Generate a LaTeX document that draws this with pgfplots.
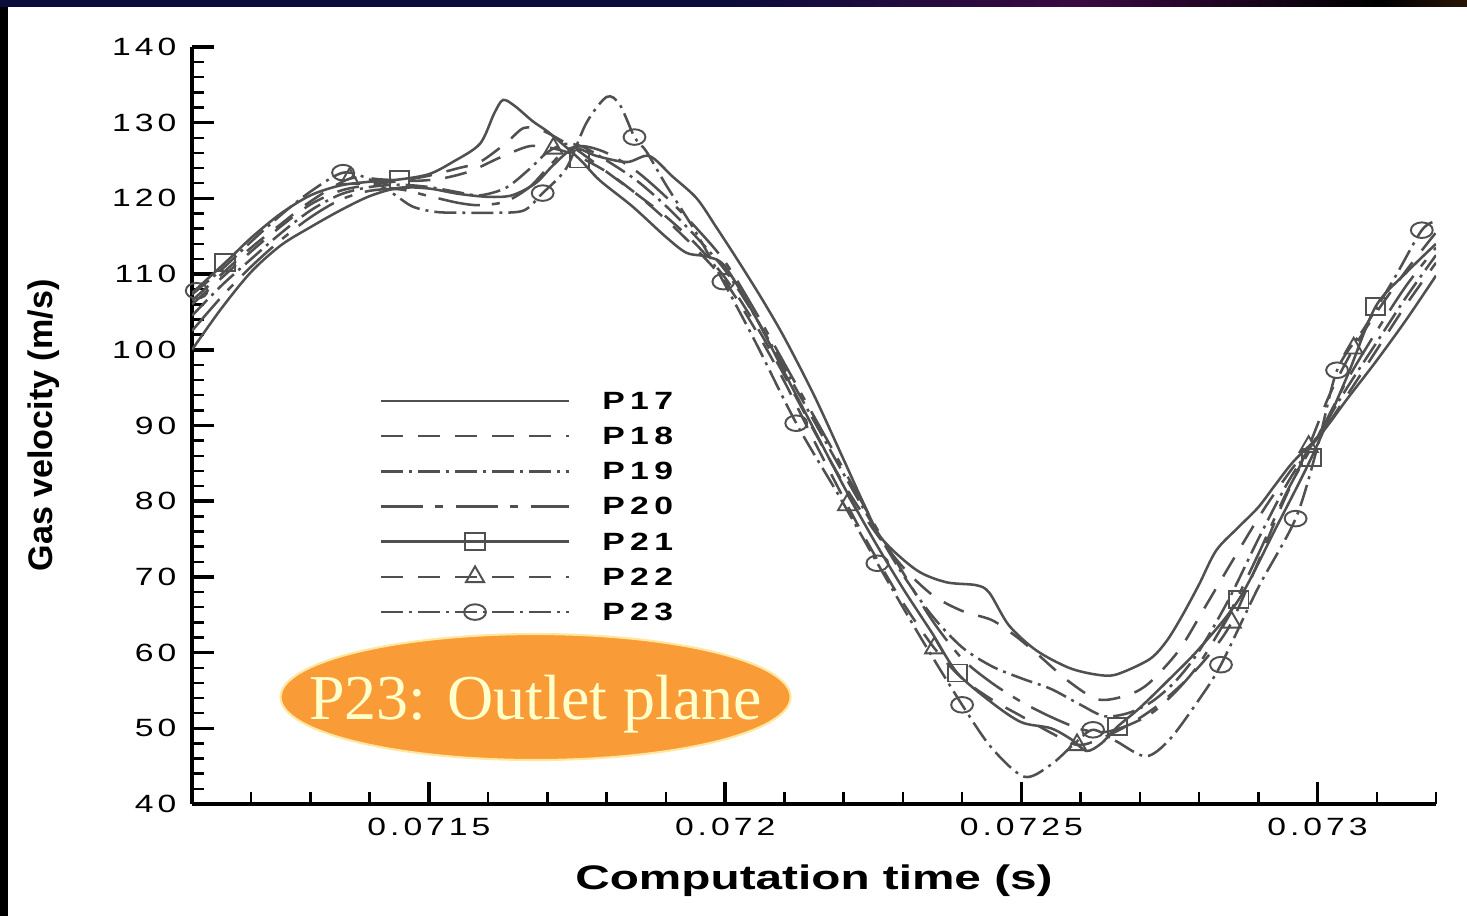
\documentclass[border=0pt]{standalone}
\usepackage{fontspec}
\setmainfont{Liberation Sans}
\newfontfamily\tickfont[FakeStretch=1.35, LetterSpace=16]{Liberation Sans}
\newfontfamily\legfont[FakeStretch=1.35, LetterSpace=22]{Liberation Sans}
\newfontfamily\labfont[FakeStretch=1.4]{Liberation Sans}
\newfontfamily\seriffont{Liberation Serif}
\usepackage{pgfplots}
\pgfplotsset{compat=1.18}
\usetikzlibrary{shapes.geometric}
\definecolor{cgray}{HTML}{505050}
\definecolor{ellfill}{HTML}{F99B36}
\definecolor{elltext}{HTML}{FFFFCC}
\definecolor{elldraw}{HTML}{FFE7A0}
\definecolor{navyc}{HTML}{0C0C3C}
\definecolor{purpc}{HTML}{3A0A40}
\definecolor{brownc}{HTML}{6B3A10}
\definecolor{magc}{HTML}{A0104A}
\definecolor{orangec}{HTML}{E07818}
\pgfdeclarehorizontalshading{topband}{100bp}{color(0bp)=(black); color(12bp)=(black); color(25bp)=(navyc); color(50bp)=(navyc); color(62bp)=(purpc); color(72bp)=(black); color(80bp)=(brownc); color(88bp)=(magc); color(100bp)=(orangec)}
\pgfplotsset{
  p17/.style={cgray, line width=0.72pt, solid},
  p18/.style={cgray, line width=0.72pt, dash pattern=on 2.2mm off 1.5mm},
  p19/.style={cgray, line width=0.72pt, dash pattern=on 2.2mm off 0.6mm on 0.3mm off 0.6mm},
  p20/.style={cgray, line width=0.72pt, dash pattern=on 4.2mm off 1.2mm on 0.8mm off 1.3mm},
  p21/.style={p17, mark=square, mark size=0.85mm, mark options={solid, line width=0.55pt, xscale=1.15}},
  p22/.style={p18, mark=triangle, mark size=1.05mm, mark options={solid, line width=0.55pt}},
  p23/.style={p19, mark=o, mark size=0.78mm, mark options={solid, line width=0.55pt, xscale=1.4}},
}
\begin{document}
\begin{tikzpicture}
\fill[black] (-1.92cm,-1.12cm) rectangle (12.75cm,8.04cm);
\fill[white] (-1.84cm,-1.12cm) rectangle (12.75cm,7.97cm);
\shade[shading=topband] (-1.92cm,7.97cm) rectangle (12.75cm,8.04cm);
\begin{axis}[
  at={(0,0)}, anchor=south west,
  scale only axis, width=12.44cm, height=7.57cm,
  xmin=711, xmax=732, ymin=40, ymax=140,
  axis lines*=left,
  axis line style={black, line width=1pt},
  tick align=inside,
  major tick length=0.22cm, minor tick length=0.12cm,
  major tick style={black, line width=1pt},
  minor tick style={black, line width=0.7pt},
  xtick={715,720,725,730},
  xticklabels={0.0715,0.072,0.0725,0.073},
  minor xtick={711,712,713,714,716,717,718,719,721,722,723,724,726,727,728,729,731,732},
  ytick={40,50,60,70,80,90,100,110,120,130,140},
  yticklabels={40,50,60,70,80,90,100,110,120,130,140},
  minor y tick num=4,
  tick label style={font=\tickfont\fontsize{7.1}{8}\selectfont, black},
  xticklabel style={anchor=north, inner sep=0pt, yshift=-1.3mm},
  yticklabel style={anchor=east, inner sep=0pt, xshift=-1.5mm},
  xlabel={Computation time (s)},
  ylabel={Gas velocity (m/s)},
  xlabel style={at={(axis description cs:0.5,-0.1123)}, anchor=base, inner sep=0pt, font=\labfont\bfseries\fontsize{9.7}{11}\selectfont},
  ylabel style={at={(axis description cs:-0.1125,0.5)}, anchor=base, inner sep=0pt, font=\bfseries\fontsize{9.7}{11}\selectfont},
  legend image code/.code={\draw[#1, mark indices={2}] plot coordinates {(0cm,0cm) (0.94cm,0cm) (1.88cm,0cm)};},
  legend style={at={(axis cs:714.17,79.3)}, anchor=west, draw=none, fill=none, inner sep=0pt, outer sep=0pt,
    font=\legfont\bfseries\fontsize{7.1}{8}\selectfont, row sep=0.02mm,
    nodes={inner sep=0pt, text height=2.6mm, text depth=0.9mm},
    /tikz/every odd column/.append style={column sep=3.2mm}},
  legend cell align=left,
]
% P17
\addplot[p17, smooth, tension=0.5, forget plot] coordinates {(711,100) (711.5,105.5) (712,110.3) (712.5,113.8) (713,116.2) (713.5,118.4) (714,120.3) (714.5,121.4) (715,121.3) (715.5,120.6) (716,120.2) (716.4,120.4) (716.8,122) (717.1,124.4) (717.45,126.6) (717.83,125.6) (718.34,124.8) (718.72,125.6) (719.11,122.9) (719.52,120) (719.85,116.2) (720.24,111.5) (720.63,106.6) (721,101.6) (721.5,94) (722,85.5) (722.35,79.5) (722.65,75) (723.23,70.9) (723.73,69.3) (724.24,68.9) (724.46,67.9) (724.79,63.6) (725.25,60.3) (725.8,58) (726.26,57.1) (726.6,57.1) (727.16,59.1) (727.45,61.5) (727.71,64.8) (728,69) (728.29,73.5) (728.67,76.6) (729,79.2) (729.3,82.3) (729.6,85.3) (730.07,89) (730.5,93.5) (731,98.6) (731.5,104) (732,109.8)};
% P18
\addplot[p18, smooth, tension=0.5, forget plot] coordinates {(711,106) (711.5,109.5) (712,113) (712.5,116.3) (713,119.2) (713.5,121) (714,121.8) (714.5,122.3) (715,123) (715.5,124) (715.86,124.8) (716.3,127.3) (716.6,129.3) (716.9,129) (717.2,127.8) (717.5,126.4) (718,123.5) (718.5,120.6) (719,117.6) (719.5,114) (720,109.5) (720.5,103.5) (721,96.6) (721.5,89.3) (722,82.3) (722.5,76.3) (723,71.3) (723.5,67.6) (724,65.5) (724.5,64.3) (724.9,62.2) (725.3,59.6) (725.8,56.2) (726.3,53.8) (726.8,54.4) (727.16,56) (727.66,60.3) (728.1,66) (728.6,72.6) (729.1,79) (729.6,84.6) (730.07,89) (730.5,94) (731,100) (731.5,106) (732,111.5)};
% P19
\addplot[p19, smooth, tension=0.5, forget plot] coordinates {(711,104.5) (711.5,108.5) (712,112) (712.5,115.4) (713,118.4) (713.5,120.5) (714,121.5) (714.5,121.8) (715,121.5) (715.5,120.8) (715.86,120.4) (716.3,121.4) (716.7,123.9) (717,126.1) (717.3,127.2) (717.6,126.8) (718,125) (718.5,122.4) (719,119) (719.5,115) (720,110.5) (720.5,104.5) (721,97.6) (721.5,90.6) (722,83.6) (722.5,76.8) (723,70.3) (723.5,64.8) (724,60.7) (724.5,58.2) (725,56.6) (725.5,55.2) (726,53.1) (726.4,51.6) (726.8,52) (727.2,53.5) (727.6,56.2) (728,60.2) (728.5,67) (729,75) (729.5,82.5) (730.07,89.5) (730.5,95) (731,101) (731.5,107) (732,112.5)};
% P20
\addplot[p20, smooth, tension=0.5, forget plot] coordinates {(711,102.5) (711.5,107) (712,111) (712.5,114.5) (713,117.5) (713.5,119.8) (714,121) (714.5,121.2) (715,120.3) (715.5,119.4) (715.86,119.1) (716.3,119.6) (716.7,121.5) (717,124) (717.3,126.3) (717.6,126.9) (718,126) (718.5,123.6) (719,120.2) (719.5,116.2) (720,111.6) (720.5,105.2) (721,98.2) (721.5,91.2) (722,84.2) (722.5,77.2) (723,70.6) (723.5,64.2) (724,59.2) (724.5,56) (725,53.5) (725.5,51.5) (726,49.9) (726.4,49.5) (726.8,50.4) (727.2,52) (727.6,54.8) (728,58.5) (728.5,65) (729,73) (729.5,81.5) (730.07,89.5) (730.5,96) (731,102.5) (731.5,108.5) (732,113.5)};
% P21
\addplot[p17, smooth, tension=0.5, forget plot] coordinates {(711,107.5) (711.56,111.5) (712,114.8) (712.5,118) (713,120.4) (713.5,121.7) (714,122.2) (714.5,122.5) (715,123.2) (715.4,124.8) (715.86,127.2) (716.1,131.2) (716.25,133) (716.45,132.2) (716.75,130.2) (717.04,128.6) (717.54,125.2) (717.88,122.4) (718.44,118.9) (719,114.9) (719.35,112.8) (719.7,112.3) (720,111) (720.5,104.5) (721,97) (721.5,89.5) (722,82) (722.5,75) (723,68.5) (723.5,62.5) (723.92,57.3) (724.5,53.4) (725,50.8) (725.5,50) (725.85,48.5) (726.1,47) (726.35,48) (726.62,50.2) (727,52.7) (727.5,56.5) (728,60.5) (728.67,67) (729.3,76.5) (729.9,85.8) (730.5,96.5) (730.98,105.7) (731.5,110.2) (732,114)};
\addplot[p21, only marks, forget plot] coordinates {(711.56,111.5) (714.5,122.5) (717.54,125.2) (723.92,57.3) (726.62,50.2) (728.67,67) (729.9,85.8) (730.98,105.7)};
% P22
\addplot[p18, smooth, tension=0.5, forget plot] coordinates {(711,106.5) (711.5,110) (712,113.5) (712.5,116.6) (713,119.6) (713.66,122.6) (714.2,122.5) (714.7,122.3) (715.2,122.6) (715.7,123.6) (716.2,125.4) (716.7,126.9) (717.1,126.6) (717.5,125.6) (718,123.5) (718.5,120.6) (719,117.2) (719.5,113.4) (720,109) (720.5,102.8) (721,95.8) (721.5,88) (722.06,79.5) (722.5,73.2) (723,66.6) (723.53,60.6) (724,56.6) (724.5,53.8) (725,51.6) (725.5,49.4) (725.94,47.8) (726.3,48.5) (726.8,50.4) (727.3,53) (727.8,56.5) (728.2,60) (728.55,64) (729,72) (729.4,79.5) (729.85,87.2) (730.2,94) (730.61,100.2) (731,105) (731.5,110.5) (732,115.5)};
\addplot[p22, only marks, forget plot] coordinates {(713.66,122.6) (717.1,126.6) (722.06,79.5) (723.53,60.6) (725.94,47.8) (728.55,64) (729.85,87.2) (730.61,100.2)};
% P23
\addplot[p19, smooth, tension=0.5, forget plot] coordinates {(711,107.3) (711.5,110.6) (712,114.3) (712.5,117.8) (713,120.9) (713.55,123.4) (714,122.5) (714.4,120.6) (714.73,118.9) (715.13,118.2) (715.6,118.1) (716.1,118.1) (716.6,118.4) (716.92,120.7) (717.32,124) (717.66,130) (718,133.4) (718.22,132.4) (718.47,128.1) (718.67,126.2) (719,121.8) (719.5,115.6) (719.97,109) (720.5,101.2) (721.2,90.3) (721.9,81) (722.57,71.8) (723.3,62) (724,53.1) (724.5,47.4) (725.05,43.6) (725.5,45.2) (725.9,48) (726.21,49.8) (726.6,48.3) (727.1,46.3) (727.5,48.5) (728,53.8) (728.37,58.4) (729,68.6) (729.63,77.7) (730,87.2) (730.33,97.3) (730.8,103) (731.3,109.5) (731.76,115.8) (732,117)};
\addplot[p23, only marks, forget plot] coordinates {(711.08,107.8) (713.55,123.4) (716.92,120.7) (718.47,128.1) (719.97,109) (721.2,90.3) (722.57,71.8) (724,53.1) (726.21,49.8) (728.37,58.4) (729.63,77.7) (730.33,97.3) (731.76,115.8)};
\addlegendimage{p17}
\addlegendimage{p18}
\addlegendimage{p19}
\addlegendimage{p20}
\addlegendimage{p21}
\addlegendimage{p22}
\addlegendimage{p23}
\legend{P17,P18,P19,P20,P21,P22,P23}
\node[ellipse, fill=ellfill, draw=elldraw, line width=0.6pt, minimum width=5.1cm, minimum height=1.26cm, inner sep=0pt] at (axis cs:716.8,54.13) {};
\node[anchor=base, inner sep=0pt, text=elltext, font=\seriffont\fontsize{18.2}{20}\selectfont] at (axis cs:716.8,51.1) {P23: Outlet plane};
\end{axis}
\pgfresetboundingbox
\path[use as bounding box] (-1.92cm,-1.12cm) rectangle (12.75cm,8.04cm);
\end{tikzpicture}
\end{document}
